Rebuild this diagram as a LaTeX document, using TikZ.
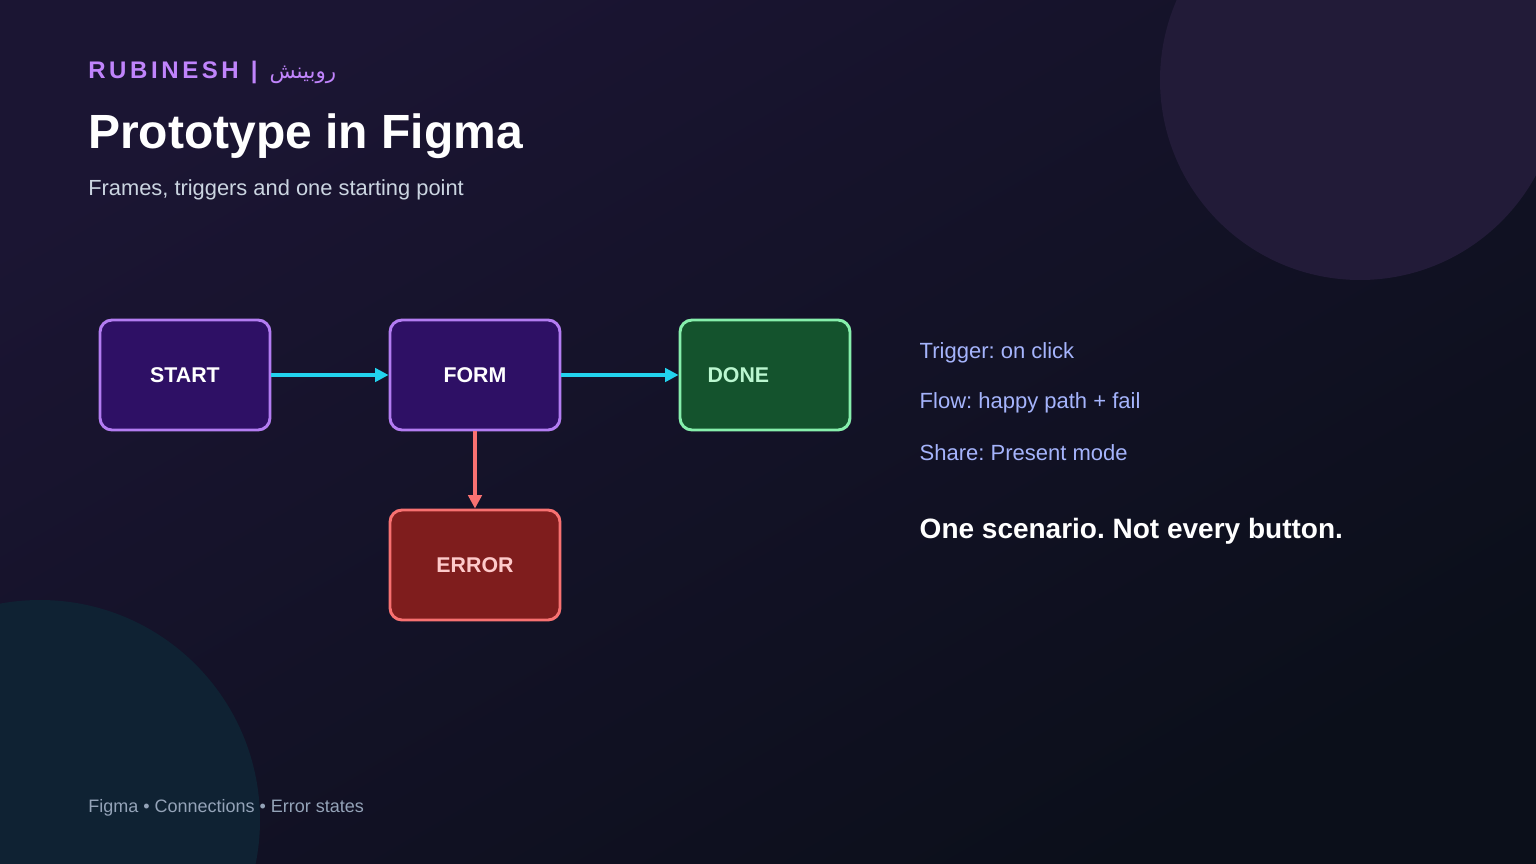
\documentclass[tikz,border=0pt]{standalone}
\usepackage{fontspec}
\setmainfont{Liberation Sans}
\newfontfamily\arfont[Script=Arabic]{DejaVu Sans}
\usetikzlibrary{arrows.meta}
\TeXXeTstate=1
\frenchspacing
\definecolor{bgA}{HTML}{1B1533}
\definecolor{bgB}{HTML}{0B0F1A}
\definecolor{circA}{HTML}{221B38}
\definecolor{circB}{HTML}{0F2233}
\definecolor{purp}{HTML}{C084FC}
\definecolor{pfill}{HTML}{2E1065}
\definecolor{pline}{HTML}{B37CF2}
\definecolor{gfill}{HTML}{14532D}
\definecolor{gline}{HTML}{86EFAC}
\definecolor{gtext}{HTML}{BBF7D0}
\definecolor{rfill}{HTML}{7F1D1D}
\definecolor{rline}{HTML}{F87171}
\definecolor{rtext}{HTML}{FECACA}
\definecolor{cyan1}{HTML}{22D3EE}
\definecolor{indi}{HTML}{A5B4FC}
\definecolor{subc}{HTML}{CBD5E1}
\definecolor{footc}{HTML}{94A3B8}
\begin{document}
\begin{tikzpicture}[x=0.75pt,y=-0.75pt,
  box/.style={draw,line width=2.2pt,rounded corners=9pt,minimum width=127.5pt,minimum height=82.5pt,text depth=0pt,font=\fontsize{16}{19}\selectfont\bfseries},
  pbox/.style={box,fill=pfill,draw=pline,text=white},
  flow/.style={line width=2.4pt,-{Triangle[length=10pt,width=10pt]}},
  side/.style={anchor=west,text=indi,font=\fontsize{16.5}{20}\selectfont}]
\useasboundingbox (0,0) rectangle (1536,864);
\shade[top color=bgA,bottom color=bgB,shading angle=30] (0,0) rectangle (1536,864);
\begin{scope}
\clip (0,0) rectangle (1536,864);
\fill[circA] (1360,80) circle[radius=200];
\fill[circB] (40,820) circle[radius=220];
\end{scope}
\node[anchor=base west,inner sep=0,text=purp,font=\fontsize{18}{22}\selectfont\bfseries] (hdr) at (88,78) {{\addfontfeature{LetterSpace=15}RUBINESH}\hspace{9pt}|\hspace{9pt}{\arfont\mdseries\fontsize{16}{20}\selectfont\beginR روبینش\endR}};
\node[anchor=base west,inner sep=0,text=white,font=\fontsize{36}{42}\selectfont\bfseries] (ttl) at (88,148) {Prototype in Figma};
\node[anchor=base west,inner sep=0,text=subc,font=\fontsize{16.4}{19}\selectfont] (sub) at (88,195) {Frames, triggers and one starting point};
\node[pbox] (start) at (185,375) {START};
\node[pbox] (form) at (475,375) {FORM};
\node[box,fill=gfill,draw=gline,text=gtext] (done) at (765,375) {\hspace*{-40pt}DONE};
\node[box,fill=rfill,draw=rline,text=rtext] (err) at (475,565) {ERROR};
\draw[flow,cyan1] (start) -- (form);
\draw[flow,cyan1] (form) -- (done);
\draw[flow,rline] (form) -- (err);
\node[side] (t1) at (915,353) {Trigger: on click};
\node[side] (t2) at (915,403) {Flow: happy path + fail};
\node[side] (t3) at (915,453) {Share: Present mode};
\node[anchor=west,text=white,font=\fontsize{21}{25}\selectfont\bfseries] (t4) at (915,531) {One scenario. Not every button.};
\node[anchor=base west,inner sep=0,text=footc,font=\fontsize{13.5}{16}\selectfont] (foot) at (88,812) {Figma • Connections • Error states};
\end{tikzpicture}
\end{document}
